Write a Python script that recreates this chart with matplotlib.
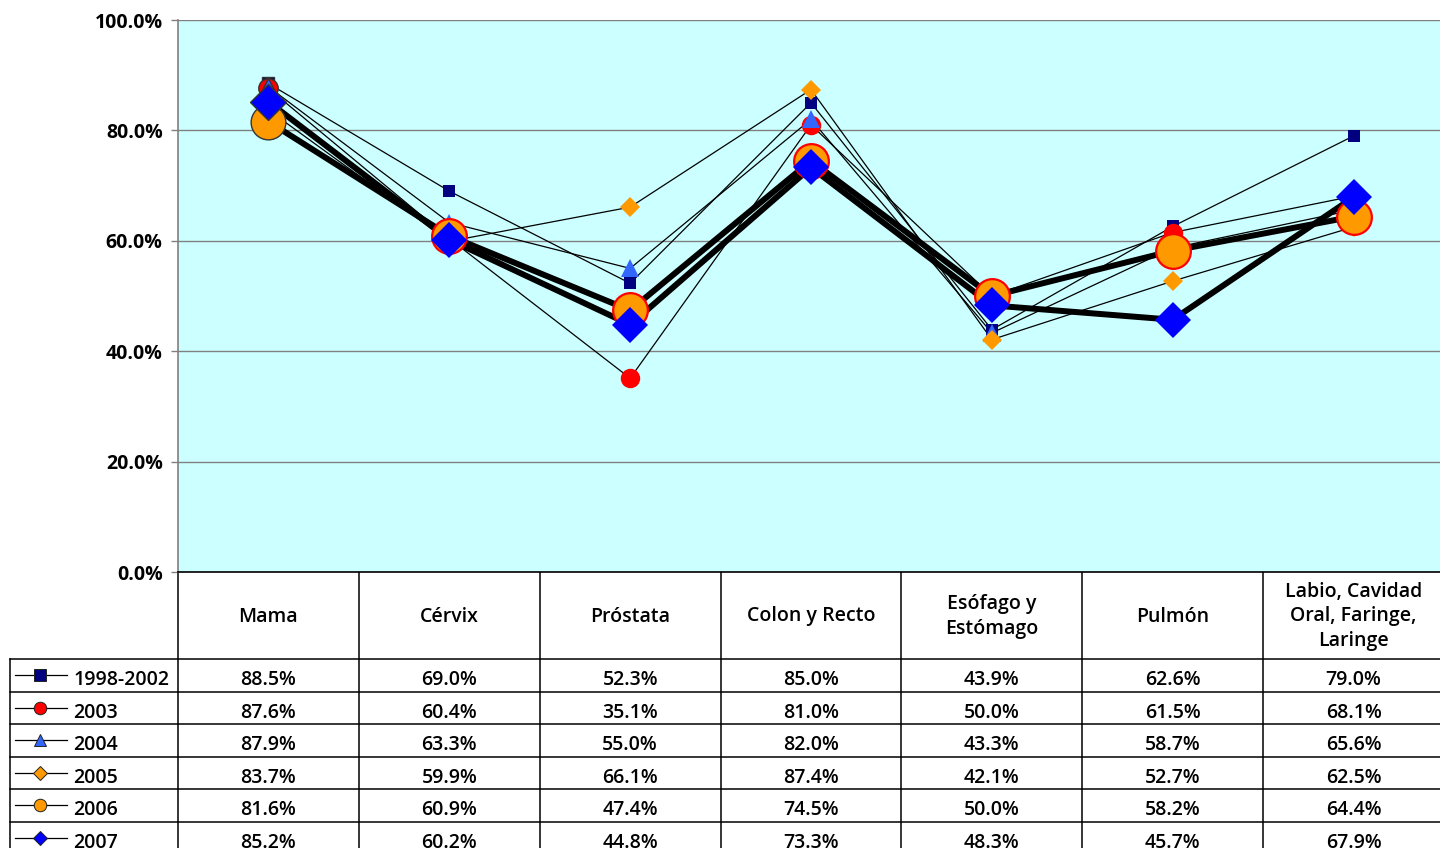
import matplotlib
matplotlib.use("Agg")
import matplotlib.pyplot as plt
from matplotlib import transforms

plt.rcParams['font.family'] = ['Open Sans', 'DejaVu Sans']

categories = ["Mama", "Cérvix", "Próstata", "Colon y Recto", "Esófago y\nEstómago",
              "Pulmón", "Labio, Cavidad\nOral, Faringe,\nLaringe"]
series_names = ["1998-2002", "2003", "2004", "2005", "2006", "2007"]
v1998 = [88.5, 69.0, 52.3, 85.0, 43.9, 62.6, 79.0]
v2003 = [87.6, 60.4, 35.1, 81.0, 50.0, 61.5, 68.1]
v2004 = [87.9, 63.3, 55.0, 82.0, 43.3, 58.7, 65.6]
v2005 = [83.7, 59.9, 66.1, 87.4, 42.1, 52.7, 62.5]
v2006 = [81.6, 60.9, 47.4, 74.5, 50.0, 58.2, 64.4]
v2007 = [85.2, 60.2, 44.8, 73.3, 48.3, 45.7, 67.9]
yticks = [0, 20, 40, 60, 80, 100]

series_values = [v1998, v2003, v2004, v2005, v2006, v2007]
styles = [
    dict(marker='s', color='#000080', ms=9, lw=0.9, edge=None),
    dict(marker='o', color='#FF0000', ms=14, lw=0.9, edge=None),
    dict(marker='^', color='#3366FF', ms=13, lw=0.9, edge=None),
    dict(marker='D', color='#FF9900', ms=10, lw=0.9, edge=None),
    dict(marker='o', color='#FF9900', ms=25, lw=4.3, edge='#FF0000'),
    dict(marker='D', color='#0000FF', ms=18, lw=4.3, edge=None),
]

W, H = 1440, 848
fig = plt.figure(figsize=(W / 100, H / 100), dpi=100)
fig.patch.set_facecolor('white')

ax = fig.add_axes([178 / W, 1 - 572 / H, 1266 / W, 552 / H])
ax.set_facecolor('#CCFFFF')
ax.set_xlim(-0.5, 6.5)
ax.set_ylim(0, 100)
ax.set_yticks(yticks)
ax.set_yticklabels([f"{t:.1f}%" for t in yticks], fontsize=14, fontweight='bold')
ax.set_xticks([])
ax.yaxis.grid(True, color='#808080', lw=1)
ax.set_axisbelow(True)
for s in ['top', 'right']:
    ax.spines[s].set_visible(False)
ax.spines['left'].set_color('#808080')
ax.spines['left'].set_linewidth(1.2)
ax.spines['bottom'].set_color('black')
ax.spines['bottom'].set_linewidth(1.2)
ax.tick_params(axis='y', direction='out', length=5, color='#808080', width=1, pad=6)

x = list(range(len(categories)))
for vals, st in zip(series_values, styles):
    ax.plot(x, vals, color='black', lw=st['lw'], zorder=3, solid_joinstyle='miter')
for vals, st in zip(series_values, styles):
    for i, v in enumerate(vals):
        if i == 0:
            ec, ew = '#333333', 1.0
        elif st['edge']:
            ec, ew = st['edge'], 1.6
        else:
            ec, ew = st['color'], 0.0
        ax.plot([i], [v], linestyle='none', marker=st['marker'], ms=st['ms'],
                markerfacecolor=st['color'], markeredgecolor=ec, markeredgewidth=ew, zorder=4)

# table
tab = fig.add_axes([0, 0, 1, 1], zorder=-1)
tab.set_xlim(0, W)
tab.set_ylim(H, 0)
tab.axis('off')
blend = transforms.blended_transform_factory(ax.transData, tab.transData)

header_top, header_bot = 572, 659
row_h = 32.5
n_rows = len(series_names)
table_bottom = header_bot + row_h * (n_rows + 1)
lc = 'black'
tw = 'semibold'
fs = 14

for i in range(len(categories) + 1):
    tab.plot([i - 0.5, i - 0.5], [header_top, table_bottom], color=lc, lw=1.1,
             transform=blend, clip_on=False)
tab.plot([10, 10], [header_bot, table_bottom], color=lc, lw=1.1)
for r in range(n_rows + 1):
    yy = header_bot + r * row_h
    tab.plot([10, 1444], [yy, yy], color=lc, lw=1.1)

for i, c in enumerate(categories):
    tab.text(i, (header_top + header_bot) / 2 + 1, c, transform=blend, ha='center', va='center',
             fontsize=fs, linespacing=1.3, fontweight=tw)

for r, (name, vals, st) in enumerate(zip(series_names, series_values, styles)):
    yc = header_bot + r * row_h + row_h / 2 + 5
    tab.plot([15, 67], [yc - 5, yc - 5], color='black', lw=0.9)
    ms = {'s': 8, 'o': 9, '^': 9, 'D': 7}[st['marker']]
    tab.plot([40], [yc - 5], marker=st['marker'], ms=ms, markerfacecolor=st['color'],
             markeredgecolor='#222222', markeredgewidth=0.7, linestyle='none')
    tab.text(73, yc, name, ha='left', va='center', fontsize=fs, fontweight=tw)
    for i, v in enumerate(vals):
        tab.text(i, yc, f"{v:.1f}%", transform=blend, ha='center', va='center',
                 fontsize=fs, fontweight=tw)

fig.savefig("out.png", dpi=100)
